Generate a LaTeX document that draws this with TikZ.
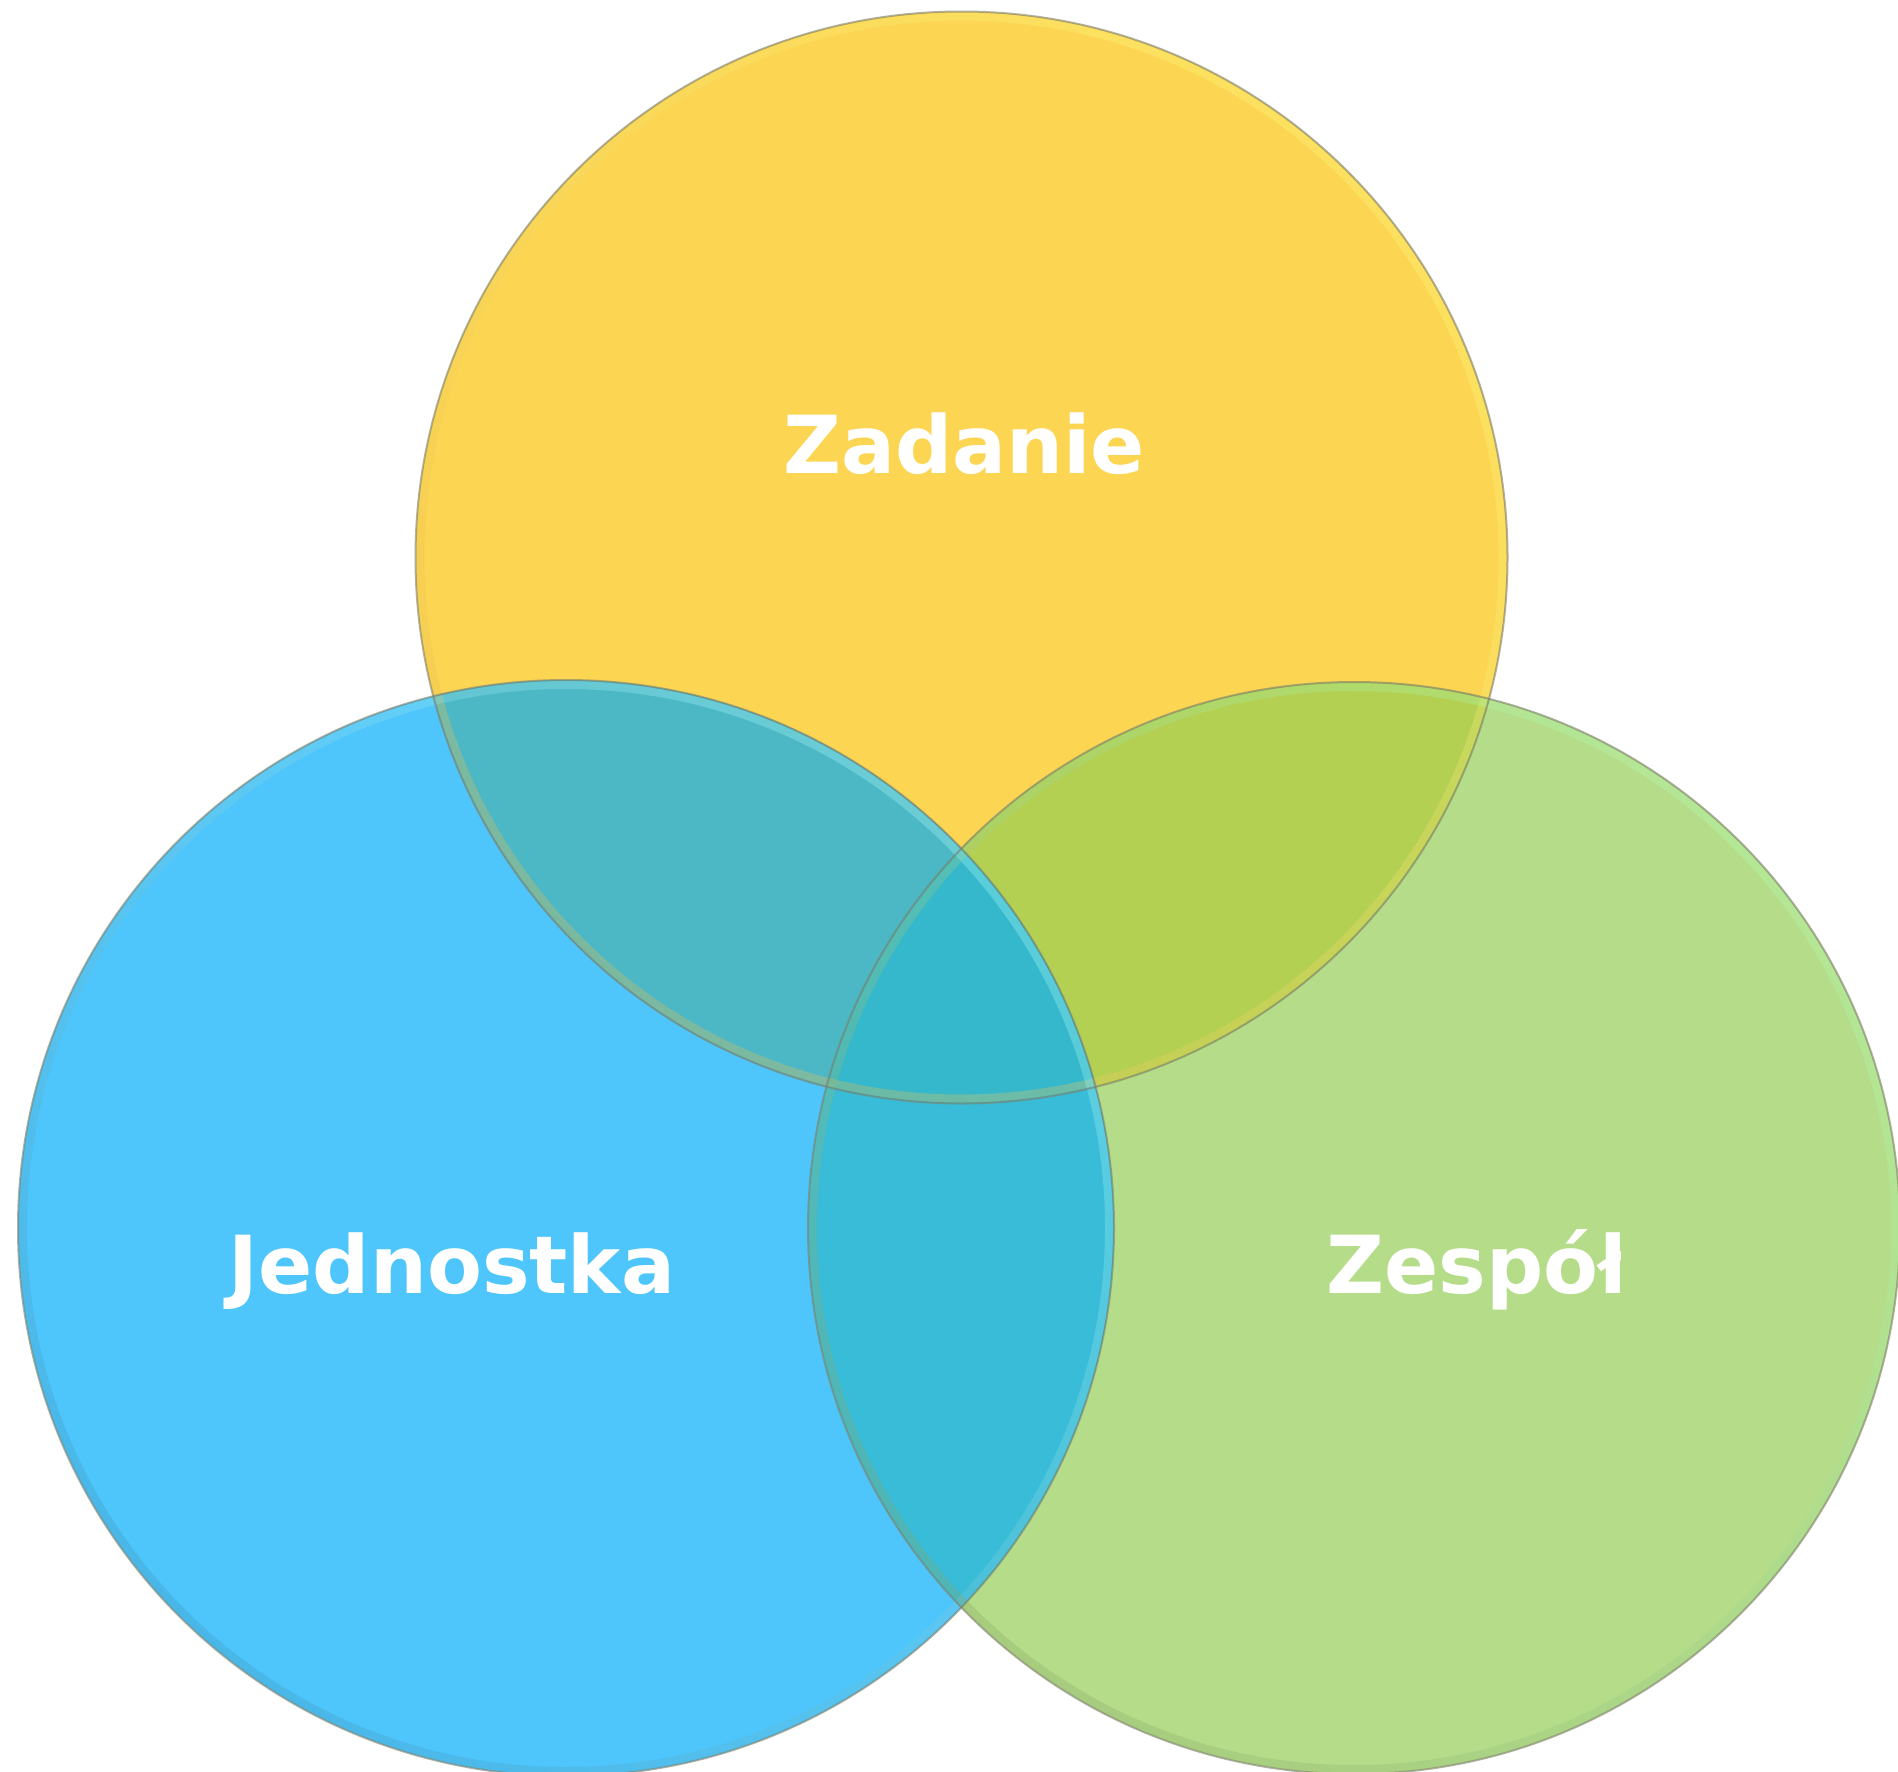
\documentclass[tikz,border=0pt]{standalone}
\usepackage{fontspec}
\newfontfamily\labelfont{DejaVu Sans}[BoldFont={DejaVu Sans Bold}]
\definecolor{cY}{HTML}{FCD553}
\definecolor{cB}{HTML}{4FC6FB}
\definecolor{cG}{HTML}{B5DD89}
\definecolor{cYB}{HTML}{4CB8C5}
\definecolor{cYG}{HTML}{B3D053}
\definecolor{cBG}{HTML}{38BCD7}
\definecolor{cYBG}{HTML}{35B8CB}
\definecolor{rimline}{HTML}{7D7F6A}
\tikzset{
  lbl/.style={text=white, inner sep=0pt, font=\labelfont\bfseries\fontsize{80}{96}\selectfont},
  outline/.style={draw=rimline, draw opacity=0.6, line width=2pt},
}
\begin{document}
\begin{tikzpicture}[x=1pt,y=-1pt]
\useasboundingbox (0,0) rectangle (1898,1772);
\fill[white] (0,0) rectangle (1898,1772);
\def\Ypath{(961.5,557.5) circle (546)}
\def\Bpath{(566,1228) circle (548)}
\def\Gpath{(1354,1228) circle (546)}
% base fills
\fill[cY] \Ypath;
\fill[cB] \Bpath;
\fill[cG] \Gpath;
\begin{scope}\clip \Ypath; \fill[cYB] \Bpath; \end{scope}
\begin{scope}\clip \Ypath; \fill[cYG] \Gpath; \end{scope}
\begin{scope}\clip \Bpath; \fill[cBG] \Gpath; \end{scope}
\begin{scope}\clip \Ypath; \clip \Bpath; \fill[cYBG] \Gpath; \end{scope}
% bevel rims
\begin{scope}[opacity=0.3]
  \shade[even odd rule, shading=axis, top color=yellow!50!white, bottom color=cY!70!brown, shading angle=-45]
    (961.5,557.5) circle (545) (961.5,557.5) circle (537);
  \shade[even odd rule, shading=axis, top color=cyan!30!white, bottom color=cB!75!black, shading angle=-45]
    (566,1228) circle (547) (566,1228) circle (539);
  \shade[even odd rule, shading=axis, top color=green!30!white, bottom color=cG!75!black, shading angle=-45]
    (1354,1228) circle (545) (1354,1228) circle (537);
\end{scope}
% outlines
\draw[outline] \Ypath;
\draw[outline] \Bpath;
\draw[outline] \Gpath;
% labels
\node[lbl, anchor=base] (zad) at (964,473) {Zadanie};
\node[lbl, anchor=base] (jed) at (452,1293) {Jednostka};
\begin{scope}
  \clip (0,0) rectangle (1620,1772);
  \node[lbl, anchor=base west] (zes) at (1326,1293) {Zespół};
\end{scope}
\end{tikzpicture}
\end{document}
